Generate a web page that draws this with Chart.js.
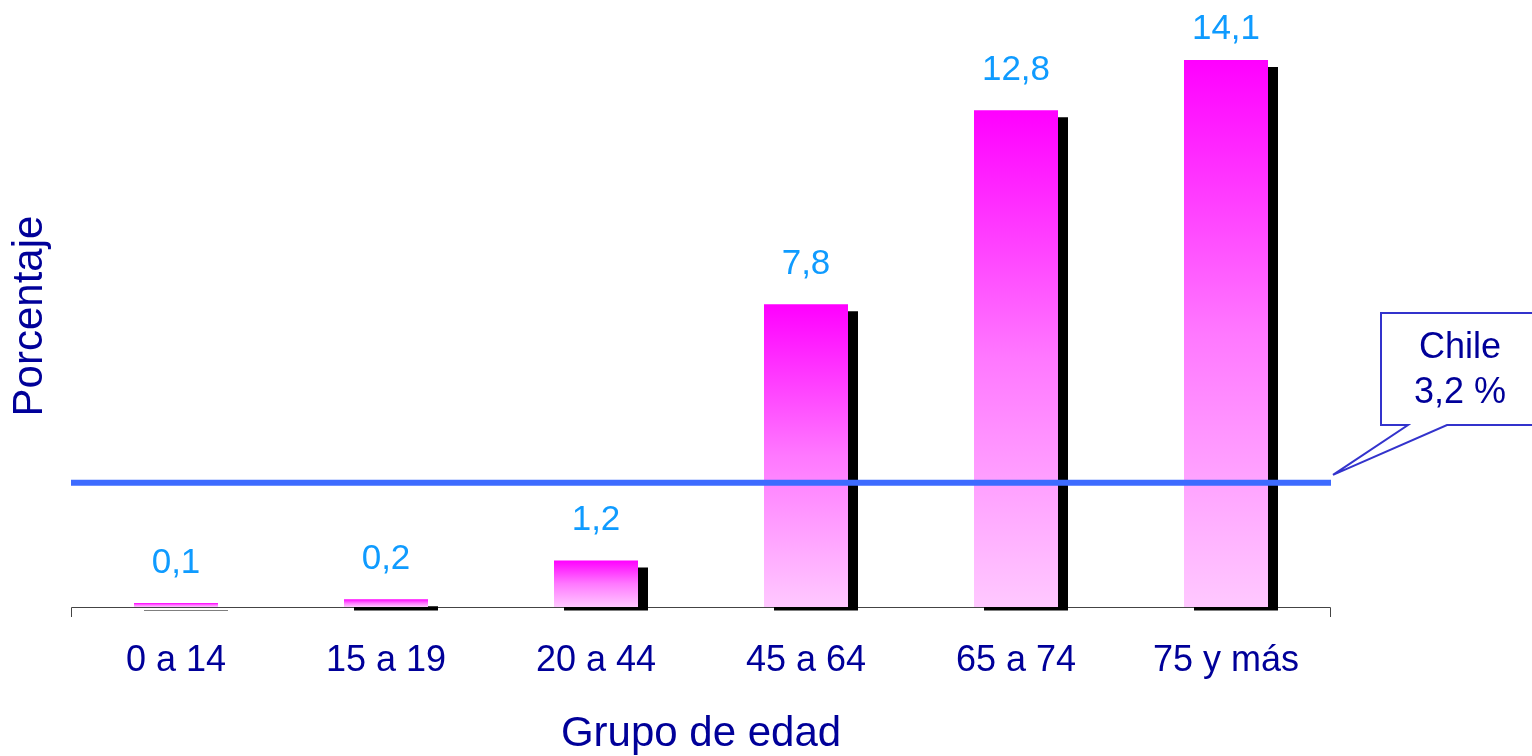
<!DOCTYPE html>
<html>
<head>
<meta charset="utf-8">
<script src="https://cdn.jsdelivr.net/npm/chart.js@4"></script>
<style>
  html, body { margin: 0; padding: 0; background: #ffffff; }
  #wrap { position: relative; width: 1532px; height: 756px; }
</style>
</head>
<body>
<div id="wrap"><canvas id="c" width="1532" height="756"></canvas></div>
<script>
const categories = ['0 a 14', '15 a 19', '20 a 44', '45 a 64', '65 a 74', '75 y más'];
const values = [0.1, 0.2, 1.2, 7.8, 12.8, 14.1];
const valueLabels = ['0,1', '0,2', '1,2', '7,8', '12,8', '14,1'];
const chileValue = [3.2];
const chileLabel = ['Chile', '3,2 %'];
const xTitle = 'Grupo de edad';
const yTitle = 'Porcentaje';

const NAVY = '#000099';
const FONT = 'Arial, "Liberation Sans", sans-serif';

function barGradient(ctx) {
  const chart = ctx.chart;
  if (!chart.chartArea || ctx.type !== 'data') return '#ff70ff';
  const ys = chart.scales.y;
  const top = ys.getPixelForValue(ctx.raw);
  const base = ys.getPixelForValue(0);
  if (base - top < 1) return '#ffc4ff';
  const g = chart.ctx.createLinearGradient(0, top, 0, base);
  g.addColorStop(0, '#ff00ff');
  g.addColorStop(0.5, '#ff78ff');
  g.addColorStop(1, '#ffc8ff');
  return g;
}

const decorPlugin = {
  id: 'decor',
  beforeDatasetsDraw(chart) {
    const {ctx, chartArea} = chart;
    ctx.save();
    ctx.strokeStyle = '#444444';
    ctx.lineWidth = 1;
    ctx.beginPath();
    ctx.moveTo(chartArea.left + 0.5, chartArea.bottom + 10);
    ctx.lineTo(chartArea.left + 0.5, chartArea.bottom + 0.5);
    ctx.lineTo(chartArea.right - 0.5, chartArea.bottom + 0.5);
    ctx.lineTo(chartArea.right - 0.5, chartArea.bottom + 10);
    ctx.stroke();
    ctx.restore();
  },
  beforeDatasetDraw(chart, args) {
    if (args.index === 0) {
      const {ctx, chartArea} = chart;
      ctx.save();
      ctx.beginPath();
      ctx.rect(0, 0, chart.width, chartArea.bottom + 3.5);
      ctx.clip();
      ctx.translate(10, 7);
    }
  },
  afterDatasetDraw(chart, args) {
    if (args.index === 0) chart.ctx.restore();
  },
  afterDatasetsDraw(chart) {
    const {ctx, chartArea} = chart;
    const ys = chart.scales.y;
    // Chile reference line
    const yc = ys.getPixelForValue(chileValue[0]);
    ctx.save();
    ctx.strokeStyle = '#3d6bff';
    ctx.lineWidth = 6;
    ctx.beginPath();
    ctx.moveTo(chartArea.left, yc);
    ctx.lineTo(chartArea.right, yc);
    ctx.stroke();

    // value labels
    const meta = chart.getDatasetMeta(1);
    ctx.fillStyle = '#0f9bff';
    ctx.font = '35px ' + FONT;
    ctx.textAlign = 'center';
    ctx.textBaseline = 'alphabetic';
    meta.data.forEach((bar, i) => {
      const yb = Math.max(bar.y - 30, 39);
      ctx.fillText(valueLabels[i], bar.x, yb);
    });

    // callout
    const tipX = chartArea.right + 2, tipY = yc - 8;
    ctx.beginPath();
    ctx.moveTo(1381, 313);
    ctx.lineTo(1545, 313);
    ctx.lineTo(1545, 425);
    ctx.lineTo(1447, 425);
    ctx.lineTo(tipX, tipY);
    ctx.lineTo(1408, 425);
    ctx.lineTo(1381, 425);
    ctx.closePath();
    ctx.fillStyle = '#ffffff';
    ctx.fill();
    ctx.strokeStyle = '#3333cc';
    ctx.lineWidth = 2;
    ctx.stroke();
    ctx.fillStyle = NAVY;
    ctx.font = '36px ' + FONT;
    ctx.textAlign = 'center';
    ctx.textBaseline = 'middle';
    ctx.fillText(chileLabel[0], 1460, 348);
    ctx.fillText(chileLabel[1], 1460, 393);
    ctx.restore();
  }
};

new Chart(document.getElementById('c'), {
  type: 'bar',
  data: {
    labels: categories,
    datasets: [
      {
        label: 'sombra',
        data: values,
        backgroundColor: '#000000',
        borderWidth: 0,
        grouped: false,
        order: 2,
        barPercentage: 0.4,
        categoryPercentage: 1.0
      },
      {
        label: 'Porcentaje',
        data: values,
        backgroundColor: barGradient,
        borderWidth: 0,
        grouped: false,
        order: 1,
        barPercentage: 0.4,
        categoryPercentage: 1.0
      }
    ]
  },
  options: {
    responsive: false,
    animation: false,
    devicePixelRatio: 1,
    layout: { padding: { top: 25, right: 201, left: 0, bottom: 0 } },
    plugins: {
      legend: { display: false },
      tooltip: { enabled: false }
    },
    scales: {
      x: {
        type: 'category',
        offset: true,
        grid: { display: false, drawTicks: false },
        border: { display: false },
        ticks: {
          color: NAVY,
          font: { family: FONT, size: 36 },
          padding: 32,
          maxRotation: 0,
          autoSkip: false
        },
        title: {
          display: true,
          text: xTitle,
          color: NAVY,
          font: { family: FONT, size: 42, lineHeight: 1 },
          padding: { top: 0, bottom: 1 }
        },
        afterFit(scale) { scale.height = 149; }
      },
      y: {
        min: 0,
        max: 15,
        grid: { display: false, drawTicks: false },
        border: { display: false },
        ticks: { display: false },
        title: {
          display: true,
          text: yTitle,
          color: NAVY,
          font: { family: FONT, size: 42, lineHeight: 1 },
          padding: { top: 9, bottom: 0 }
        },
        afterFit(scale) { scale.width = 71; }
      }
    }
  },
  plugins: [decorPlugin]
});
</script>
</body>
</html>
